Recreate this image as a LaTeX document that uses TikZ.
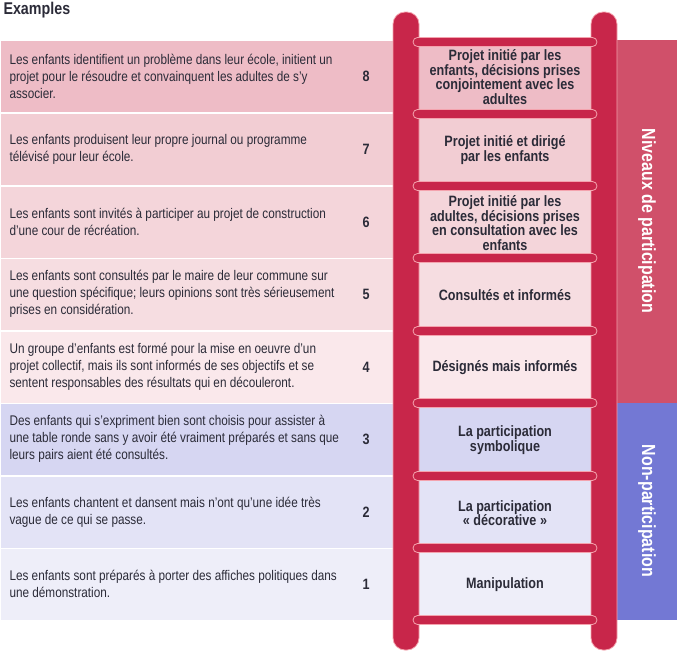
\documentclass[tikz,border=0pt]{standalone}
\usepackage{fontspec}
\setmainfont{Liberation Sans}[FakeStretch=0.84]
\usepackage{tikz}
\definecolor{ladderred}{HTML}{C8264A}
\definecolor{rungedge}{HTML}{F4A3AE}
\definecolor{bandpink}{HTML}{D0506A}
\definecolor{bandblue}{HTML}{7378D4}
\definecolor{inkgray}{HTML}{2B2B38}
\tikzset{
  example/.style={anchor=west, text width=335pt, align=flush left, font=\fontsize{14}{17}\selectfont, text=inkgray},
  level/.style={align=center, font=\bfseries\fontsize{15}{14.5}\selectfont, text=inkgray},
  number/.style={font=\bfseries\fontsize{15}{17}\selectfont, text=inkgray},
  rail/.style={fill=ladderred, draw=rungedge, line width=0.8pt, rounded corners=12pt},
  rung/.style={fill=ladderred, draw=rungedge, line width=0.8pt, rounded corners=4.5pt},
  band/.style={text=white, font=\bfseries\fontsize{19}{20}\selectfont, rotate=-90}
}
\begin{document}
\begin{tikzpicture}[x=1pt, y=-1pt]
  \useasboundingbox (0,0) rectangle (677,651);
  \node[anchor=west, font=\bfseries\fontsize{17}{19}\selectfont, text=inkgray] (title) at (0,10) {Examples};

  % rows of the table
  \foreach \n/\top/\rowcol/\ex/\lev in {
    8/40/EEBCC6/{Les enfants identifient un problème dans leur école, initient un projet pour le résoudre et convainquent les adultes de s'y associer.}/{Projet initié par les\\enfants, décisions prises\\conjointement avec les\\adultes},
    7/113/F2CDD3/{Les enfants produisent leur propre journal ou programme télévisé pour leur école.}/{Projet initié et dirigé\\par les enfants},
    6/186/F4D5DA/{Les enfants sont invités à participer au projet de construction d'une cour de récréation.}/{Projet initié par les\\adultes, décisions prises\\en consultation avec les\\enfants},
    5/258/F6DDE1/{Les enfants sont consultés par le maire de leur commune sur une question spécifique; leurs opinions sont très sérieusement prises en considération.}/{Consultés et informés},
    4/331/FAE8EB/{Un groupe d'enfants est formé pour la mise en oeuvre d'un projet collectif, mais ils sont informés de ses objectifs et se sentent responsables des résultats qui en découleront.}/{Désignés mais informés},
    3/403/D6D6F2/{Des enfants qui s'expriment bien sont choisis pour assister à une table ronde sans y avoir été vraiment préparés et sans que leurs pairs aient été consultés.}/{La participation\\symbolique},
    2/476/E3E3F6/{Les enfants chantent et dansent mais n'ont qu'une idée très vague de ce qui se passe.}/{La participation\\«~décorative~»},
    1/548/EEEEF9/{Les enfants sont préparés à porter des affiches politiques dans une démonstration.}/{Manipulation}} {
    \definecolor{rowc}{HTML}{\rowcol}
    \fill[rowc, draw=white, line width=1pt] (0,\top) rectangle (400,\top+72.5);
    \fill[rowc] (415,\top) rectangle (595,\top+72.5);
    \node[example] (ex\n) at (6,\top+36) {\ex};
    \node[number] (num\n) at (366,\top+36) {\n};
    \node[level] (lev\n) at (505,\top+37) {\lev};
  }

  % side bands
  \fill[bandpink] (617,40) rectangle (677,403);
  \fill[bandblue] (617,403) rectangle (677,620);
  \node[band] (niveaux) at (647,221) {Niveaux de participation};
  \node[band] (nonpart) at (647,511) {Non-participation};

  % ladder
  \draw[rail] (393,12) rectangle (419,650);
  \draw[rail] (591,12) rectangle (617,650);
  \foreach \y in {42,114,186,258,331,403,476,548,620}
    \draw[rung] (413,\y-4.5) rectangle (597,\y+4.5);
\end{tikzpicture}
\end{document}
